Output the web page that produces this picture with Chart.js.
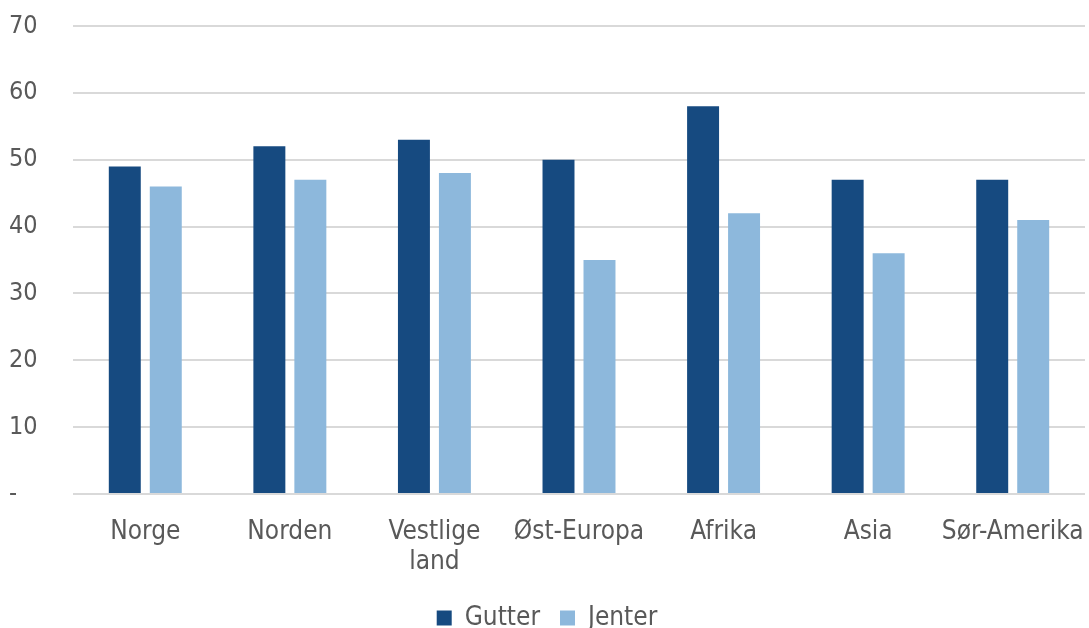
<!DOCTYPE html>
<html><head><meta charset="utf-8">
<script src="https://cdn.jsdelivr.net/npm/chart.js@4/dist/chart.umd.min.js"></script>
<style>html,body{margin:0;padding:0;background:#fff}#wrap{width:1089px;height:628px}</style>
</head><body><div id="wrap"><canvas id="c" width="1089" height="628"></canvas></div>
<script>
const categories = ["Norge", "Norden", ["Vestlige", "land"], "Øst-Europa", "Afrika", "Asia", "Sør-Amerika"];
const gutter = [49, 52, 53, 50, 58, 47, 47];
const jenter = [46, 47, 48, 35, 42, 36, 41];
const yTicks = [0, 10, 20, 30, 40, 50, 60, 70];

const FONT = "'DejaVu Sans Condensed', Tahoma, 'DejaVu Sans', sans-serif";
new Chart(document.getElementById('c'), {
  type: 'bar',
  data: {
    labels: categories,
    datasets: [
      {label: 'Gutter', data: gutter, backgroundColor: '#164a80', barPercentage: 0.78, categoryPercentage: 0.567},
      {label: 'Jenter', data: jenter, backgroundColor: '#8db8dc', barPercentage: 0.78, categoryPercentage: 0.567}
    ]
  },
  options: {
    responsive: false,
    animation: false,
    layout: {padding: {top: 26, right: 4, left: 9, bottom: -13}},
    plugins: {
      legend: {
        position: 'bottom',
        labels: {font: {family: FONT, size: 26}, color: '#595959', boxWidth: 15, boxHeight: 15, padding: 20}
      },
      tooltip: {enabled: false}
    },
    scales: {
      x: {
        grid: {display: false},
        border: {display: false},
        afterFit: (axis) => { axis.height = 91; axis.paddingLeft = 0; axis.paddingRight = 0; },
        ticks: {font: {family: FONT, size: 26, lineHeight: 1.15}, color: '#595959', maxRotation: 0, autoSkip: false, padding: 15}
      },
      y: {
        min: 0, max: 70,
        afterBuildTicks: (axis) => { axis.ticks = yTicks.map(v => ({value: v})); },
        afterFit: (axis) => { axis.width = 64; axis.paddingTop = 0; axis.paddingBottom = 0; },
        grid: {color: '#d9d9d9', lineWidth: 2, drawTicks: false},
        border: {display: false},
        ticks: {
          font: {family: FONT, size: 25}, color: '#595959', padding: 35,
          crossAlign: 'far',
          callback: (v) => v === 0 ? '-' : v
        }
      }
    }
  }
});
</script></body></html>
